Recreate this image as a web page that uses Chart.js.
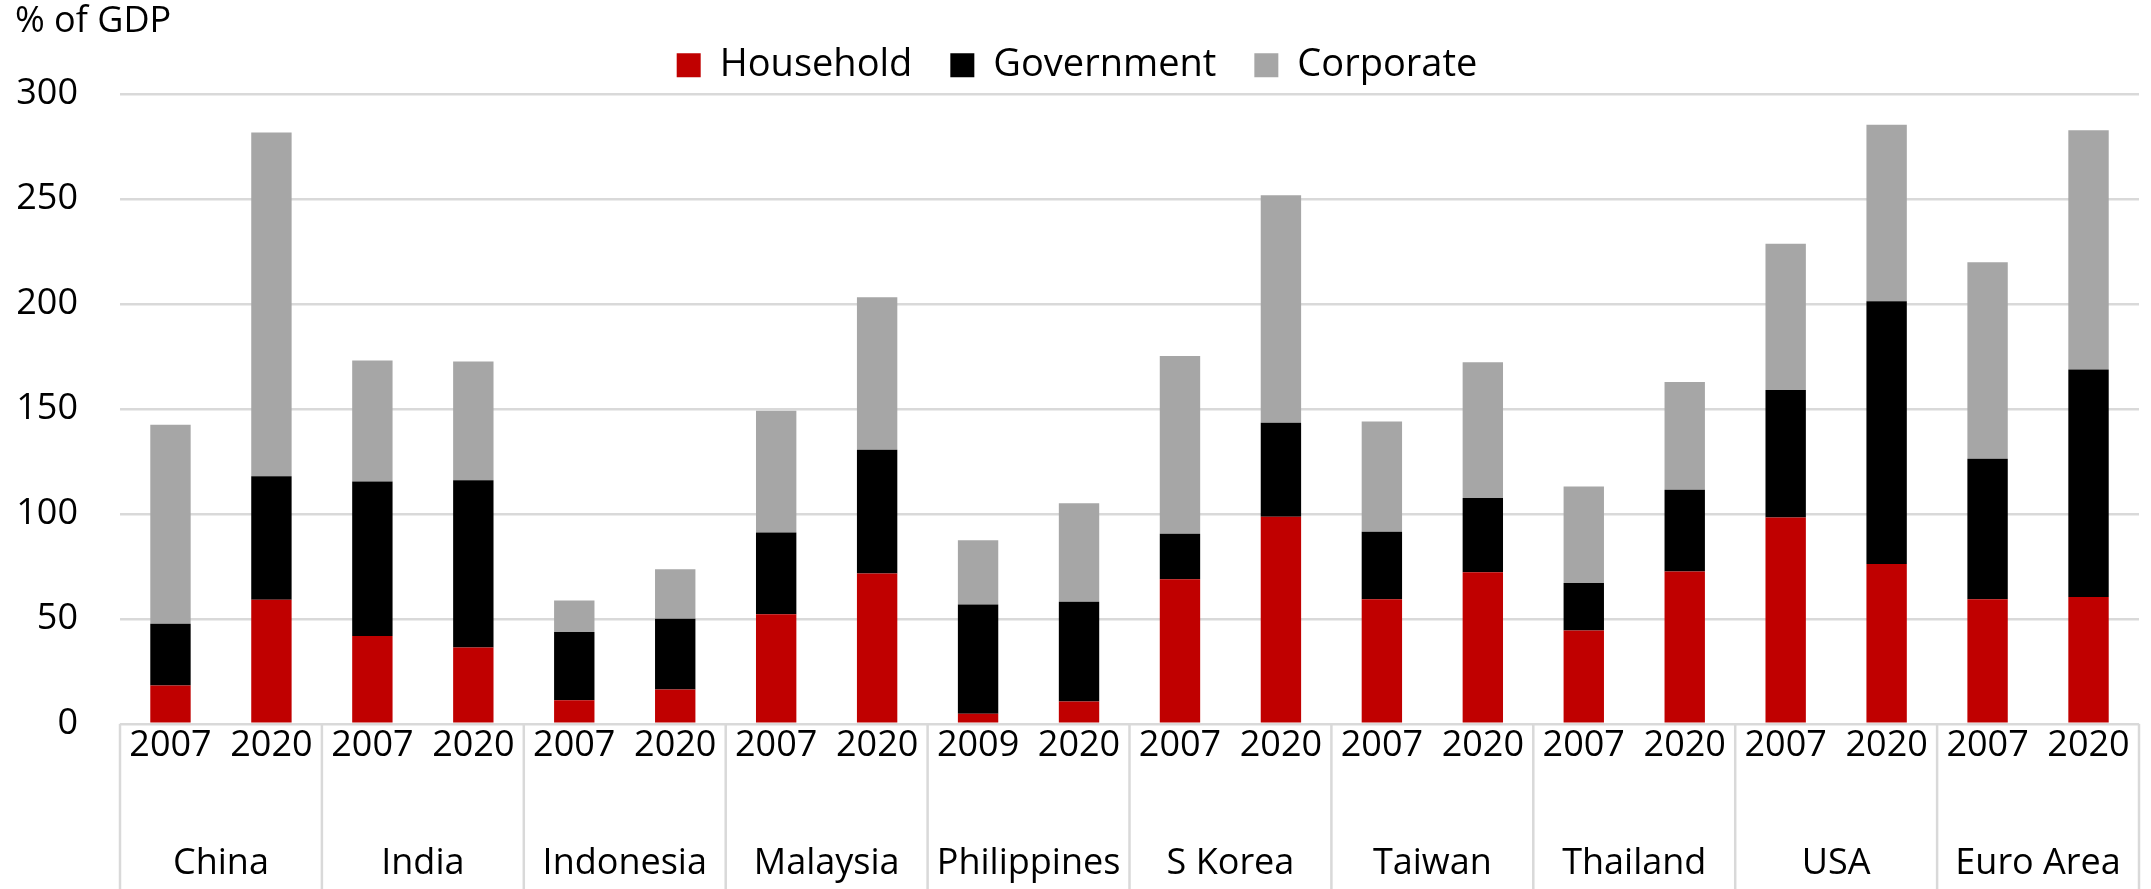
<!DOCTYPE html>
<html>
<head>
<meta charset="utf-8">
<script src="https://cdn.jsdelivr.net/npm/chart.js@4.4.1/dist/chart.umd.min.js"></script>
<style>
  body { margin: 0; background: #fff; }
  #wrap { width: 2151px; height: 889px; }
</style>
</head>
<body>
<div id="wrap"><canvas id="debtChart"></canvas></div>
<script>
// Debt by sector, % of GDP
const countries = ["China", "India", "Indonesia", "Malaysia", "Philippines", "S Korea", "Taiwan", "Thailand", "USA", "Euro Area"];
const years = ["2007", "2020", "2007", "2020", "2007", "2020", "2007", "2020", "2009", "2020",
               "2007", "2020", "2007", "2020", "2007", "2020", "2007", "2020", "2007", "2020"];
const household  = [18.2, 59.1, 41.8, 36.3, 11.2, 16.4, 52.2, 71.6, 4.8, 10.6, 68.9, 98.7, 59.4, 72.2, 44.5, 72.6, 98.3, 76.1, 59.4, 60.4];
const government = [29.5, 58.9, 73.7, 79.8, 32.5, 33.7, 38.9, 59.0, 52.1, 47.6, 21.7, 44.7, 32.1, 35.4, 22.6, 38.9, 60.8, 125.3, 66.9, 108.4];
const corporate  = [94.8, 163.8, 57.6, 56.5, 15.0, 23.5, 58.1, 72.6, 30.6, 46.9, 84.7, 108.5, 52.5, 64.7, 46.0, 51.4, 69.7, 84.0, 93.6, 114.0];
const yTicks = [0, 50, 100, 150, 200, 250, 300];

const FONT = "'Open Sans', 'Noto Sans', sans-serif";
const GRID = "#d9d9d9";

// vertical separators between country groups, below the axis
const groupLines = {
  id: 'groupLines',
  afterDraw(chart) {
    const x = chart.scales.x;
    const ctx = chart.ctx;
    const slot = x.getPixelForValue(1) - x.getPixelForValue(0);
    const start = x.getPixelForValue(0) - slot / 2;
    ctx.save();
    ctx.strokeStyle = GRID;
    ctx.lineWidth = 2.5;
    for (let i = 0; i <= countries.length; i++) {
      const px = start + i * 2 * slot;
      ctx.beginPath();
      ctx.moveTo(px, chart.chartArea.bottom);
      ctx.lineTo(px, chart.height);
      ctx.stroke();
    }
    ctx.restore();
  }
};

new Chart(document.getElementById("debtChart"), {
  type: 'bar',
  data: {
    labels: years,
    datasets: [
      { label: "Household",  data: household,  backgroundColor: "#c00000" },
      { label: "Government", data: government, backgroundColor: "#000000" },
      { label: "Corporate",  data: corporate,  backgroundColor: "#a6a6a6" }
    ]
  },
  options: {
    responsive: true,
    maintainAspectRatio: false,
    animation: false,
    layout: { padding: { left: 15, right: 12, top: 0, bottom: 4 } },
    datasets: {
      bar: { categoryPercentage: 1, barPercentage: 0.4 }
    },
    plugins: {
      title: {
        display: true,
        text: "% of GDP",
        align: 'start',
        color: "#000",
        font: { family: FONT, size: 36, weight: 'normal' },
        padding: { top: 0, bottom: -35 }
      },
      legend: {
        display: true,
        position: 'top',
        labels: {
          color: "#000",
          font: { family: FONT, size: 38 },
          boxWidth: 24,
          boxHeight: 24,
          padding: 38
        }
      },
      tooltip: { enabled: false }
    },
    scales: {
      x: {
        stacked: true,
        grid: { display: false, drawTicks: false },
        border: { display: false },
        afterFit: (axis) => { axis.height = 118; },
        ticks: {
          color: "#000",
          font: { family: FONT, size: 36 },
          maxRotation: 0,
          autoSkip: false,
          padding: 0
        }
      },
      x2: {
        type: 'category',
        labels: countries,
        position: 'bottom',
        offset: true,
        grid: { display: false, drawTicks: false },
        border: { display: false },
        ticks: {
          color: "#000",
          font: { family: FONT, size: 36 },
          maxRotation: 0,
          autoSkip: false,
          padding: 0
        }
      },
      y: {
        stacked: true,
        min: 0,
        max: 300,
        afterBuildTicks: (axis) => { axis.ticks = yTicks.map(v => ({ value: v })); },
        afterFit: (axis) => { axis.width = 105; },
        grid: { color: GRID, lineWidth: 2.5, drawTicks: false },
        border: { display: false },
        ticks: {
          color: "#000",
          font: { family: FONT, size: 36 },
          padding: 42
        }
      }
    }
  },
  plugins: [groupLines]
});
</script>
</body>
</html>
